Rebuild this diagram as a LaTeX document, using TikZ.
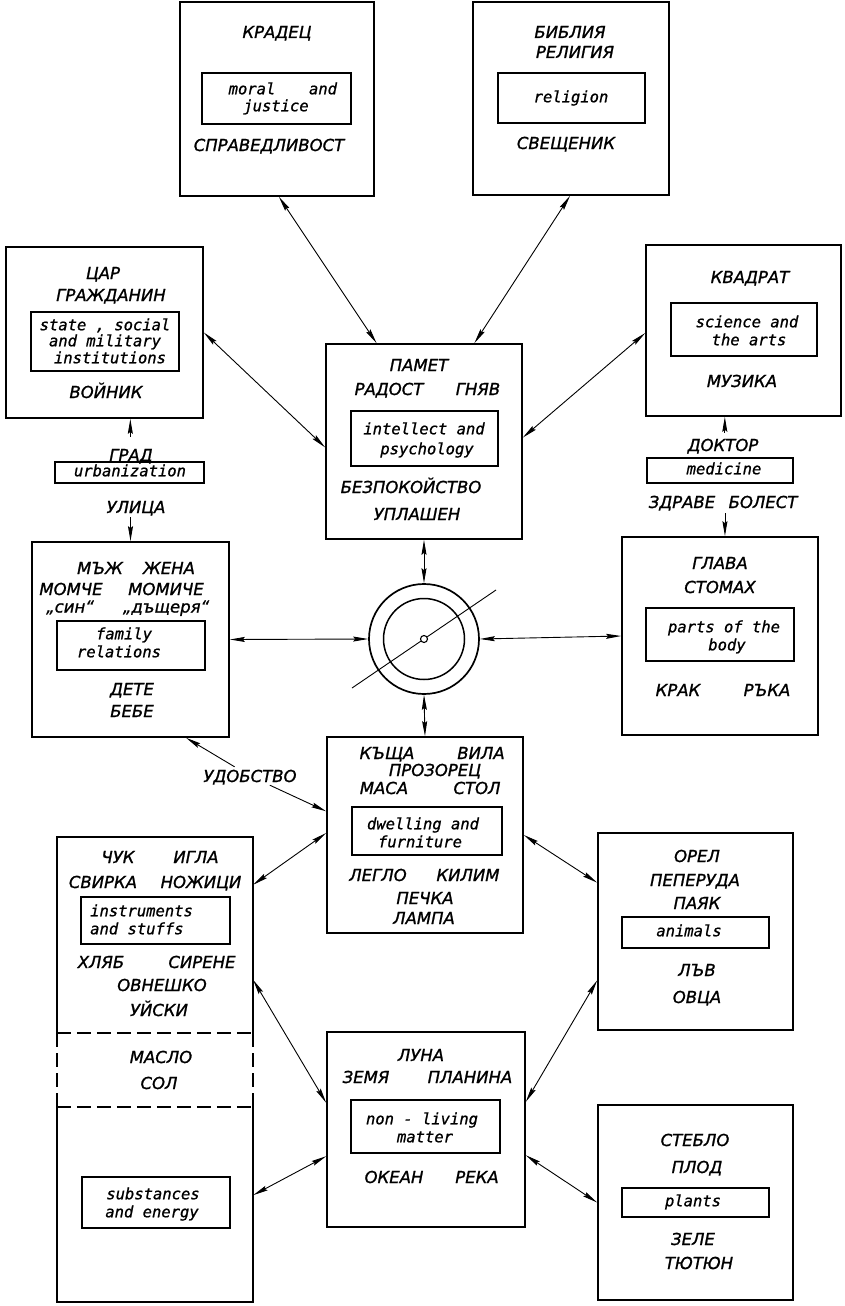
\documentclass[tikz,border=0pt]{standalone}
\usepackage{fontspec}
\setmainfont{DejaVu Sans}
\newfontfamily\cyrf{DejaVu Sans}[FakeBold=1.2]
\newfontfamily\enf{DejaVu Sans Mono}[FakeBold=1.0]
\usetikzlibrary{arrows.meta,calc}
\begin{document}
\begin{tikzpicture}[x=1pt,y=-1pt,
 outer/.style={draw, line width=1.7pt, inner sep=0pt},
 inbox/.style={draw, line width=1.1pt, inner sep=0pt},
 cy/.style={font=\cyrf\itshape\fontsize{16.5}{19}\selectfont, inner sep=0pt, text height=12pt, text depth=0pt},
 cyl/.style={font=\cyrf\itshape\fontsize{16.5}{19}\selectfont, inner sep=0pt, text height=9pt, text depth=0pt},
 en/.style={font=\enf\itshape\fontsize{15.5}{18}\selectfont, inner sep=0pt, text height=8.5pt, text depth=0pt},
 conn/.style={line width=.9pt, >={Stealth[length=15pt,width=5pt,inset=2pt]}, <->},
 sarr/.style={line width=.9pt, >={Stealth[length=15pt,width=5pt,inset=2pt]}, ->},
 dsh/.style={line width=1.7pt, dash pattern=on 14pt off 6pt}
]
\useasboundingbox[fill=white] (0,0) rectangle (844,1306);

% ---------- outer boxes ----------
\node[outer, minimum width=194pt, minimum height=194pt] (b1) at (277,99) {};
\node[outer, minimum width=196pt, minimum height=193pt] (b2) at (571,98.5) {};
\node[outer, minimum width=197pt, minimum height=171pt] (b3) at (104.5,332.5) {};
\node[outer, minimum width=196pt, minimum height=195pt] (b4) at (424,441.5) {};
\node[outer, minimum width=195pt, minimum height=171pt] (b5) at (743.5,330.5) {};
\node[outer, minimum width=197pt, minimum height=195pt] (b6) at (130.5,639.5) {};
\node[outer, minimum width=196pt, minimum height=198pt] (b8) at (720,636) {};
\node[outer, minimum width=196pt, minimum height=196pt] (b9) at (425,835) {};
\node[inner sep=0pt, minimum width=196pt, minimum height=465pt] (b10) at (155,1069.5) {};
\node[outer, minimum width=195pt, minimum height=197pt] (b11) at (695.5,931.5) {};
\node[outer, minimum width=198pt, minimum height=195pt] (b12) at (426,1129.5) {};
\node[outer, minimum width=195pt, minimum height=195pt] (b13) at (695.5,1202.5) {};

% tall box with dashed middle part
\coordinate (dl1) at (0,1033);
\coordinate (dl2) at (0,1107);
\draw[line width=1.7pt] (b10.west |- dl1) -- (b10.north west) -- (b10.north east) -- (b10.east |- dl1);
\draw[line width=1.7pt] (b10.west |- dl2) -- (b10.south west) -- (b10.south east) -- (b10.east |- dl2);
\draw[dsh] (b10.west |- dl1) -- (b10.east |- dl1);
\draw[dsh] (b10.west |- dl2) -- (b10.east |- dl2);
\draw[dsh] (b10.west |- dl1) -- (b10.west |- dl2);
\draw[dsh] (b10.east |- dl1) -- (b10.east |- dl2);

% ---------- inner boxes ----------
\node[inbox, minimum width=149pt, minimum height=51pt] (i1) at (276.5,98.5) {};
\node[inbox, minimum width=147pt, minimum height=50pt] (i2) at (571.5,98) {};
\node[inbox, minimum width=148pt, minimum height=59pt] (i3) at (105,341.5) {};
\node[inbox, minimum width=149pt, minimum height=21pt] (iu) at (129.5,472.5) {};
\node[inbox, minimum width=147pt, minimum height=55pt] (i4) at (424.5,438.5) {};
\node[inbox, minimum width=146pt, minimum height=53pt] (i5) at (744,329.5) {};
\node[inbox, minimum width=146pt, minimum height=25pt] (im) at (720,470.5) {};
\node[inbox, minimum width=148pt, minimum height=49pt] (i6) at (131,645.5) {};
\node[inbox, minimum width=148pt, minimum height=53pt] (i8) at (720,634.5) {};
\node[inbox, minimum width=150pt, minimum height=48pt] (i9) at (427,831) {};
\node[inbox, minimum width=149pt, minimum height=47pt] (i10) at (155.5,920.5) {};
\node[inbox, minimum width=148pt, minimum height=51pt] (i10b) at (156,1202.5) {};
\node[inbox, minimum width=147pt, minimum height=31pt] (i11) at (695.5,932.5) {};
\node[inbox, minimum width=149pt, minimum height=53pt] (i12) at (425.5,1126.5) {};
\node[inbox, minimum width=147pt, minimum height=29pt] (i13) at (695.5,1202.5) {};

% ---------- texts ----------
% box 1
\node[cy] (t1a) at (277,32) {КРАДЕЦ};
\node[en] (t1b) at (252,90) {moral};
\node[en] (t1c) at (323,90) {and};
\node[en] (t1d) at (276,107) {justice};
\node[cy] (t1e) at (269,145) {СПРАВЕДЛИВОСТ};
% box 2
\node[cy] (t2a) at (570,32) {БИБЛИЯ};
\node[cy] (t2b) at (575,52) {РЕЛИГИЯ};
\node[en] (t2c) at (571,98) {religion};
\node[cy] (t2d) at (566,143) {СВЕЩЕНИК};
% box 3
\node[cy] (t3a) at (103,273) {ЦАР};
\node[cy] (t3b) at (111,295) {ГРАЖДАНИН};
\node[en] (t3c) at (105,326) {state , social};
\node[en] (t3d) at (105,342) {and military};
\node[en] (t3e) at (110,359) {institutions};
\node[cy] (t3f) at (106,392) {ВОЙНИК};
\node[cy] (grad) at (131,455) {ГРАД};
\node[en] (t3g) at (130,472) {urbanization};
\node[cy] (ulica) at (136,507) {УЛИЦА};
% box 4
\node[cy] (t4a) at (419,365) {ПАМЕТ};
\node[cy] (t4b) at (389,389) {РАДОСТ};
\node[cy] (t4c) at (478,389) {ГНЯВ};
\node[en] (t4d) at (424,430) {intellect and};
\node[en] (t4e) at (427,450) {psychology};
\node[cy] (t4f) at (411,487) {БЕЗПОКОЙСТВО};
\node[cy] (t4g) at (417,514) {УПЛАШЕН};
% box 5
\node[cy] (t5a) at (750,277) {КВАДРАТ};
\node[en] (t5b) at (747,323) {science and};
\node[en] (t5c) at (749,341) {the arts};
\node[cy] (t5d) at (742,381) {МУЗИКА};
\node[cy] (doktor) at (723,445) {ДОКТОР};
\node[en] (t5e) at (724,470) {medicine};
\node[cy] (zdrave) at (682,502) {ЗДРАВЕ};
\node[cy] (bolest) at (763,502) {БОЛЕСТ};
% box 6
\node[cy] (t6a) at (100,568) {МЪЖ};
\node[cy] (t6b) at (169,568) {ЖЕНА};
\node[cy] (t6c) at (71,589) {МОМЧЕ};
\node[cy] (t6d) at (166,589) {МОМИЧЕ};
\node[cyl] (t6e) at (70,608) {„син“};
\node[cyl] (t6f) at (166,608) {„дъщеря“};
\node[en] (t6g) at (124,635) {family};
\node[en] (t6h) at (119,653) {relations};
\node[cy] (t6i) at (132,689) {ДЕТЕ};
\node[cy] (t6j) at (132,711) {БЕБЕ};
% box 8
\node[cy] (t8a) at (720,563) {ГЛАВА};
\node[cy] (t8b) at (720,587) {СТОМАХ};
\node[en] (t8c) at (724,628) {parts of the};
\node[en] (t8d) at (727,646) {body};
\node[cy] (t8e) at (678,690) {КРАК};
\node[cy] (t8f) at (767,690) {РЪКА};
% box 9
\node[cy] (t9a) at (387,753) {КЪЩА};
\node[cy] (t9b) at (481,753) {ВИЛА};
\node[cy] (t9c) at (435,770) {ПРОЗОРЕЦ};
\node[cy] (t9d) at (384,788) {МАСА};
\node[cy] (t9e) at (477,788) {СТОЛ};
\node[en] (t9f) at (423,825) {dwelling and};
\node[en] (t9g) at (420,843) {furniture};
\node[cy] (t9h) at (378,875) {ЛЕГЛО};
\node[cy] (t9i) at (468,875) {КИЛИМ};
\node[cy] (t9j) at (425,898) {ПЕЧКА};
\node[cy] (t9k) at (424,918) {ЛАМПА};
% box 10
\node[cy] (t10a) at (118,857) {ЧУК};
\node[cy] (t10b) at (196,857) {ИГЛА};
\node[cy] (t10c) at (103,882) {СВИРКА};
\node[cy] (t10d) at (201,882) {НОЖИЦИ};
\node[en, anchor=west] (t10e) at (90,912) {instruments};
\node[en, anchor=west] (t10f) at (90,930) {and stuffs};
\node[cy] (t10g) at (101,962) {ХЛЯБ};
\node[cy] (t10h) at (202,962) {СИРЕНЕ};
\node[cy] (t10i) at (162,985) {ОВНЕШКО};
\node[cy] (t10j) at (159,1010) {УЙСКИ};
\node[cy] (t10k) at (161,1057) {МАСЛО};
\node[cy] (t10l) at (159,1083) {СОЛ};
\node[en] (t10m) at (153,1195) {substances};
\node[en] (t10n) at (152,1213) {and energy};
% box 11
\node[cy] (t11a) at (697,856) {ОРЕЛ};
\node[cy] (t11b) at (695,880) {ПЕПЕРУДА};
\node[cy] (t11c) at (697,903) {ПАЯК};
\node[en] (t11d) at (689,932) {animals};
\node[cy] (t11e) at (697,970) {ЛЪВ};
\node[cy] (t11f) at (697,997) {ОВЦА};
% box 12
\node[cy] (t12a) at (421,1055) {ЛУНА};
\node[cy] (t12b) at (366,1077) {ЗЕМЯ};
\node[cy] (t12c) at (470,1077) {ПЛАНИНА};
\node[en] (t12d) at (422,1120) {non - living};
\node[en] (t12e) at (425,1138) {matter};
\node[cy] (t12f) at (394,1177) {ОКЕАН};
\node[cy] (t12g) at (477,1177) {РЕКА};
% box 13
\node[cy] (t13a) at (695,1140) {СТЕБЛО};
\node[cy] (t13b) at (697,1167) {ПЛОД};
\node[en] (t13c) at (693,1202) {plants};
\node[cy] (t13d) at (693,1239) {ЗЕЛЕ};
\node[cy] (t13e) at (699,1263) {ТЮТЮН};

% ---------- centre circle ----------
\node[draw, circle, line width=1.7pt, minimum size=110pt, inner sep=0pt] (co) at (424,639) {};
\node[draw, circle, line width=1.5pt, minimum size=81pt, inner sep=0pt] (ci) at (424,639) {};
\coordinate (dA) at (352,688);
\coordinate (dB) at (496,590);
\draw[line width=.9pt] (dA) -- (dB);
\node[draw, circle, fill=white, line width=1.1pt, minimum size=7pt, inner sep=0pt] (cc) at (424,639) {};

% ---------- connectors ----------
\draw[conn] ($(b1.south west)!0.51!(b1.south east)$) -- ($(b4.north west)!0.26!(b4.north east)$);
\draw[conn] ($(b2.south west)!0.495!(b2.south east)$) -- ($(b4.north west)!0.755!(b4.north east)$);
\draw[conn] ($(b3.north east)!0.50!(b3.south east)$) -- ($(b4.north west)!0.53!(b4.south west)$);
\draw[conn] ($(b5.north west)!0.515!(b5.south west)$) -- ($(b4.north east)!0.48!(b4.south east)$);
\draw[conn] (b4.south) -- (co.north);
\draw[conn] (b6.east) -- (co.west);
\draw[conn] (co.east) -- (b8.west);
\draw[conn] (co.south) -- (b9.north);

\node[cy, inner sep=3pt] (udob) at (250,776) {УДОБСТВО};
\draw[sarr] (udob) -- ($(b6.south west)!0.78!(b6.south east)$);
\draw[sarr] (udob) -- ($(b9.north west)!0.38!(b9.south west)$);

\draw[conn] ($(b9.north west)!0.49!(b9.south west)$) -- ($(b10.north east)!0.103!(b10.south east)$);
\draw[conn] (b9.east) -- ($(b11.north west)!0.254!(b11.south west)$);
\draw[conn] ($(b10.north east)!0.3075!(b10.south east)$) -- ($(b12.north west)!0.364!(b12.south west)$);
\draw[conn] ($(b12.north east)!0.359!(b12.south east)$) -- ($(b11.north west)!0.746!(b11.south west)$);
\draw[conn] ($(b10.north east)!0.77!(b10.south east)$) -- ($(b12.north west)!0.636!(b12.south west)$);
\draw[conn] ($(b12.north east)!0.631!(b12.south east)$) -- (b13.west);

% short arrows
\coordinate (pg) at ($(b3.south west)!0.63!(b3.south east)$);
\draw[sarr, shorten <=12pt] (pg |- grad.north) -- (pg);
\draw[sarr, shorten <=4pt] (b6.north |- ulica.south) -- (b6.north);
\coordinate (pd) at ($(b5.south west)!0.405!(b5.south east)$);
\draw[sarr, shorten <=6pt] (pd |- doktor.north) -- (pd);
\coordinate (pz) at ($(b8.north west)!0.525!(b8.north east)$);
\draw[sarr, shorten <=5pt] (pz |- zdrave.south) -- (pz);
\end{tikzpicture}
\end{document}
